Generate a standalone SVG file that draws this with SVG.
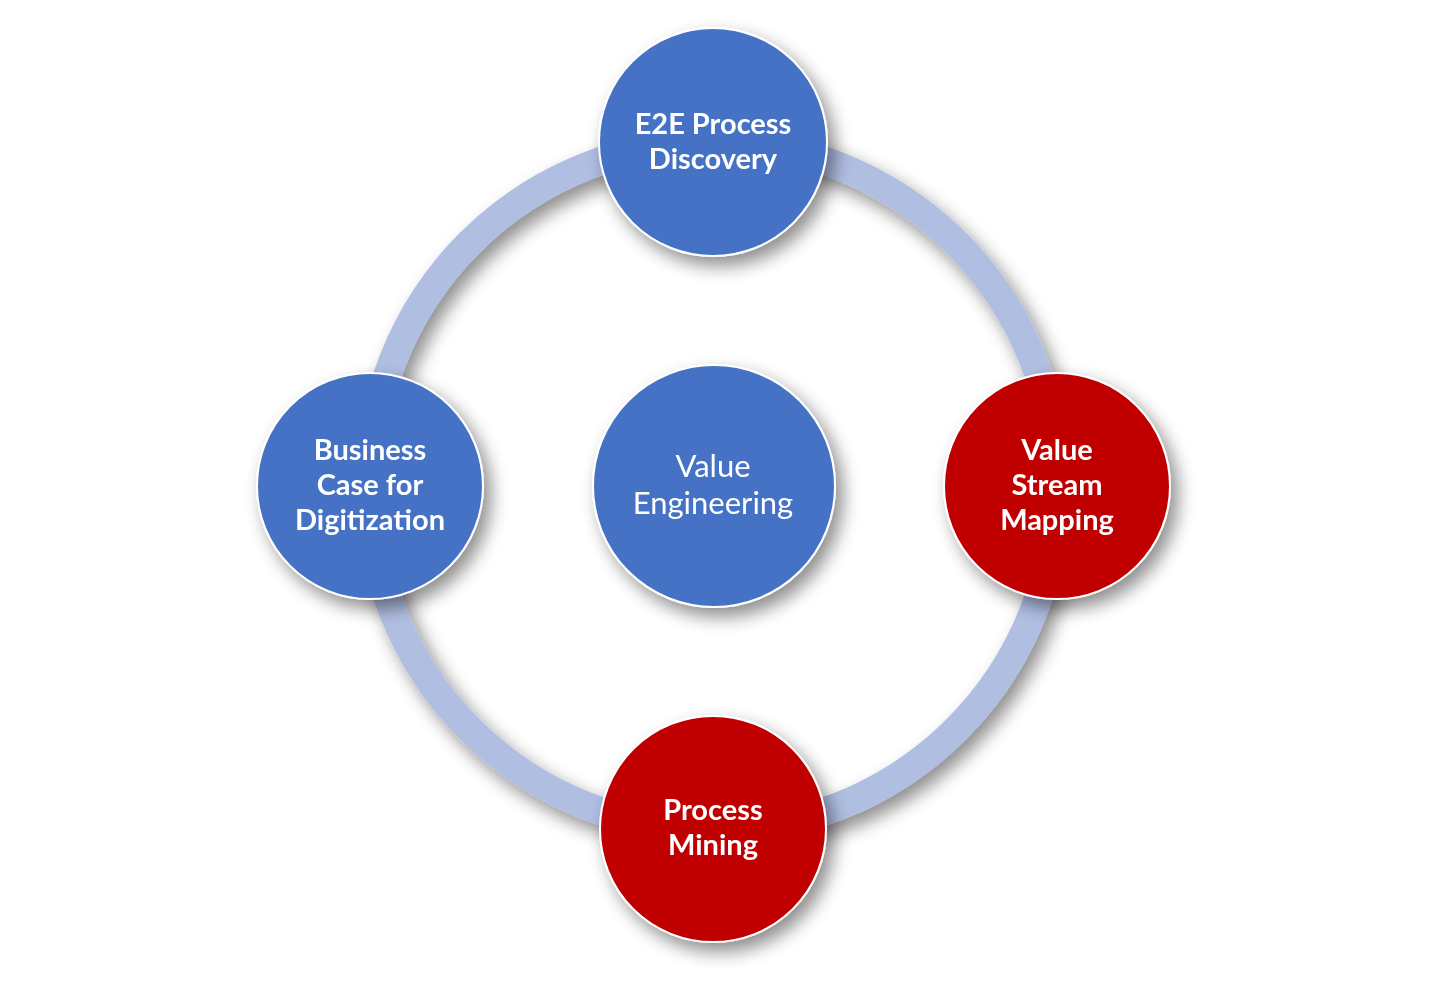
<svg xmlns="http://www.w3.org/2000/svg" width="1456" height="1002" viewBox="0 0 1456 1002">
<defs>
<filter id="sh" x="-30%" y="-30%" width="160%" height="160%">
<feGaussianBlur in="SourceAlpha" stdDeviation="9"/>
<feOffset dx="7" dy="9" result="b"/>
<feComponentTransfer><feFuncA type="linear" slope="0.45"/></feComponentTransfer>
<feMerge><feMergeNode/><feMergeNode in="SourceGraphic"/></feMerge>
</filter>
<style>
.ring{fill:none;stroke:#B0BEE2;stroke-width:28}
.blue{fill:#4472C4;stroke:#ffffff;stroke-width:2}
.red{fill:#C00000;stroke:#ffffff;stroke-width:2}
.t{font-family:Lato,"Open Sans","Liberation Sans",sans-serif;font-weight:bold;font-size:29px;fill:#ffffff;text-anchor:middle}
.tr{font-family:Lato,"Open Sans","Liberation Sans",sans-serif;font-weight:normal;font-size:31px;fill:#ffffff;text-anchor:middle}
</style>
</defs>
<rect width="1456" height="1002" fill="#ffffff"/>
<g id="connectors">
<circle class="ring" cx="713" cy="486" r="344" filter="url(#sh)"/>
</g>
<g id="node-top" filter="url(#sh)">
<circle class="blue" cx="713" cy="142" r="114"/>
<text class="t" x="713" y="134">E2E Process</text>
<text class="t" x="713" y="169">Discovery</text>
</g>
<g id="node-center" filter="url(#sh)">
<circle class="blue" cx="714" cy="486" r="121"/>
<text class="tr" x="713" y="477">Value</text>
<text class="tr" x="713" y="514">Engineering</text>
</g>
<g id="node-left" filter="url(#sh)">
<circle class="blue" cx="370" cy="486" r="113"/>
<text class="t" x="370" y="460">Business</text>
<text class="t" x="370" y="495">Case for</text>
<text class="t" x="370" y="530">Digitization</text>
</g>
<g id="node-right" filter="url(#sh)">
<circle class="red" cx="1057" cy="486" r="113"/>
<text class="t" x="1057" y="460">Value</text>
<text class="t" x="1057" y="495">Stream</text>
<text class="t" x="1057" y="530">Mapping</text>
</g>
<g id="node-bottom" filter="url(#sh)">
<circle class="red" cx="713" cy="829" r="113"/>
<text class="t" x="713" y="820">Process</text>
<text class="t" x="713" y="855">Mining</text>
</g>
</svg>
